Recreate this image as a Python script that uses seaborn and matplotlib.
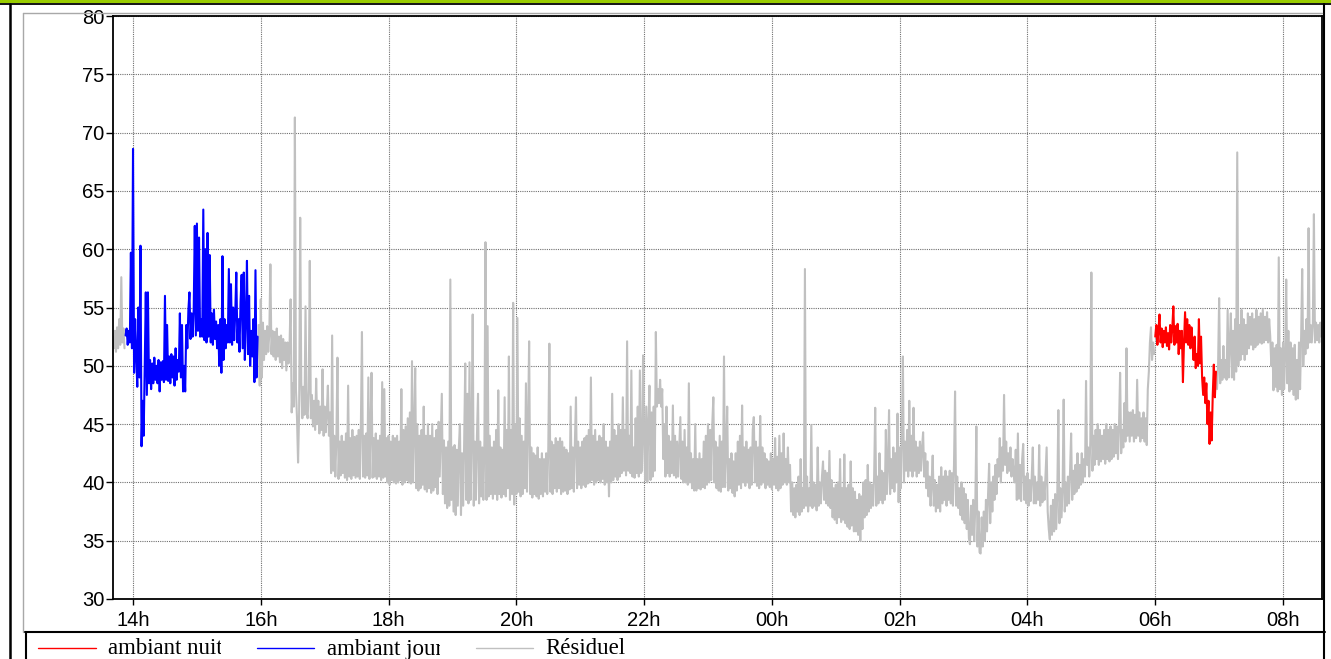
import matplotlib
matplotlib.use("Agg")
import pandas as pd
import matplotlib.pyplot as plt
import matplotlib.dates as mdates
from matplotlib.lines import Line2D
from matplotlib.patches import Rectangle
import seaborn as sns

# ---------------------------------------------------------------- data
# sound level samples, one per minute (dB)
DAY = "2024-05-13"

residuel_a_start = f"{DAY} 13:41"
residuel_a = [52.5, 51.5, 53.0, 51.2, 53.3, 51.5, 54.0, 51.8, 57.6, 52.0, 53.2, 51.5]

jour_start = f"{DAY} 13:53"
ambiant_jour = [
    52.6, 53.2, 51.8, 53.0, 52.0, 59.7, 51.5, 68.6, 49.4, 54.0,
    51.0, 48.2, 55.0, 49.0, 60.3, 43.1, 47.0, 44.0, 50.0, 56.3,
    47.5, 56.3, 48.5, 50.5, 48.0, 50.2, 48.5, 50.7, 48.8, 50.0,
    48.5, 50.5, 47.8, 50.3, 48.8, 50.4, 48.6, 56.0, 48.8, 53.5,
    48.7, 50.8, 48.5, 51.0, 49.0, 50.8, 48.3, 51.5, 48.8, 50.5,
    49.5, 54.5, 49.0, 53.5, 47.8, 50.0, 47.8, 53.5, 51.5, 54.8,
    56.3, 52.3, 54.5, 52.5, 54.8, 62.0, 52.6, 62.2, 53.0, 61.0,
    52.5, 54.0, 52.5, 63.4, 52.2, 60.0, 52.0, 61.4, 52.5, 59.5,
    52.0, 54.5, 51.8, 54.8, 52.3, 53.8, 51.5, 53.5, 50.0, 54.0,
    49.4, 59.4, 50.5, 54.0, 51.5, 53.5, 52.0, 58.3, 52.0, 57.0,
    51.8, 55.0, 52.2, 54.5, 58.0, 52.0, 54.0, 51.2, 55.5, 57.8,
    51.5, 58.0, 50.5, 54.0, 59.0, 51.0, 56.0, 50.0, 53.0, 50.8,
    54.0, 48.6, 58.2, 49.0, 52.5,
]

residuel_b_start = f"{DAY} 15:58"
residuel_b = [
    53.5, 48.3, 55.7, 49.0, 53.7, 50.5, 53.0, 51.0, 53.4, 51.2,
    52.8, 58.7, 51.0, 53.0, 50.8, 52.9, 50.5, 53.2, 50.8, 52.5,
    50.3, 52.6, 49.8, 52.3, 50.5, 52.0, 49.6, 52.0, 50.2, 51.8,
    55.7, 46.0, 48.5, 46.5, 71.3, 48.0, 45.5, 41.7, 46.0, 62.7,
    48.6, 45.5, 48.2, 45.8, 55.1, 46.0, 45.5, 48.0, 59.0, 45.5,
    47.5, 44.8, 47.0, 44.5, 48.9, 45.0, 47.0, 44.2, 46.5, 44.5,
    49.7, 44.0, 46.5, 44.3, 46.0, 48.3, 44.0, 46.0, 40.8, 52.6,
    41.0, 44.0, 40.5, 43.8, 50.7, 40.3, 43.5, 40.6, 44.0, 40.8,
    43.5, 40.4, 44.2, 40.2, 48.3, 40.5, 43.8, 40.3, 44.5, 40.6,
    43.9, 40.4, 44.0, 40.5, 44.5, 40.3, 45.0, 52.9, 40.5, 44.0,
    40.4, 44.2, 40.6, 49.0, 40.3, 44.5, 49.4, 40.4, 43.8, 40.5,
    44.2, 40.3, 43.6, 40.5, 44.0, 40.2, 48.6, 40.4, 48.0, 40.5,
    43.8, 40.0, 44.0, 39.8, 43.5, 40.2, 44.0, 40.0, 43.8, 39.9,
    44.0, 40.0, 43.5, 40.2, 48.0, 39.8, 44.5, 40.0, 44.8, 40.2,
    45.5, 40.0, 46.0, 39.9, 50.4, 40.0, 44.5, 49.8, 39.5, 45.0,
    39.3, 44.0, 39.5, 44.5, 39.8, 46.5, 39.4, 44.0, 39.2, 45.0,
    39.5, 44.0, 39.1, 45.0, 39.3, 43.8, 39.6, 44.5, 39.0, 45.2,
    40.5, 44.0, 47.6, 39.0, 43.6, 38.2, 43.0, 37.8, 43.5, 38.0,
    57.4, 38.5, 43.0, 37.5, 43.2, 37.2, 42.8, 38.0, 43.0, 45.0,
    37.2, 42.5, 38.0, 43.5, 50.2, 38.5, 47.6, 38.2, 50.3, 38.5,
    44.0, 54.4, 38.0, 43.5, 38.5, 44.0, 47.6, 38.2, 43.5, 38.8,
    43.0, 38.5, 43.5, 60.6, 38.5, 53.4, 38.8, 44.0, 39.0, 43.0,
    38.6, 43.5, 39.0, 44.5, 38.5, 47.9, 39.0, 43.0, 38.7, 42.8,
    39.0, 47.3, 38.8, 44.5, 39.5, 50.8, 38.5, 44.5, 39.0, 55.4,
    38.1, 45.0, 39.0, 54.1, 39.2, 45.5, 38.8, 44.0, 39.0, 43.5,
    39.5, 48.5, 39.2, 45.0, 52.1, 39.0, 43.0, 38.7, 42.5, 39.0,
    42.3, 38.8, 43.0, 38.6, 42.0, 39.0, 42.5, 38.8, 42.0, 39.2,
    42.5, 39.0, 43.0, 51.9, 39.2, 43.5, 39.0, 43.2, 39.5, 43.8,
    39.2, 43.5, 39.5, 43.8, 39.0, 43.5, 39.2, 43.0, 39.3, 42.8,
    39.0, 42.5, 39.4, 46.5, 39.5, 43.0, 39.2, 43.5, 47.3, 39.5,
    43.5, 39.8, 43.0, 39.5, 43.5, 39.8, 43.8, 39.6, 44.0, 39.9,
    44.5, 40.0, 49.0, 40.2, 44.0, 39.8, 44.5, 40.0, 43.5, 40.2,
    44.0, 40.0, 43.8, 40.3, 45.0, 39.8, 43.5, 40.0, 43.0, 38.8,
    43.5, 40.0, 47.6, 40.2, 44.5, 40.5, 44.0, 40.2, 45.0, 40.5,
    44.5, 40.8, 47.3, 41.0, 44.5, 40.6, 52.1, 41.0, 44.0, 40.8,
    49.6, 40.5, 43.0, 40.4, 45.5, 40.8, 46.5, 40.5, 49.6, 40.8,
    41.0, 50.9, 44.0, 40.2, 46.5, 40.0, 45.0, 48.3, 40.2, 46.0,
    40.5, 46.5, 41.0, 52.9, 46.5, 48.0, 46.8, 48.8, 46.5, 48.0,
    42.0, 45.0, 40.5, 46.5, 40.8, 44.0, 40.5, 43.5, 40.8, 46.6,
    40.6, 44.0, 40.4, 43.5, 40.5, 43.0, 45.6, 40.3, 43.5, 40.0,
    44.5, 40.0, 43.0, 39.8, 48.5, 40.0, 42.5, 39.5, 42.0, 39.3,
    45.0, 39.3, 42.0, 39.5, 42.5, 39.4, 42.0, 39.6, 43.5, 39.5,
    44.0, 39.8, 45.0, 40.0, 44.5, 40.2, 45.0, 47.3, 40.0, 43.5,
    39.5, 43.0, 39.3, 44.0, 39.2, 43.5, 39.6, 50.8, 39.6, 42.5,
    46.5, 39.3, 42.0, 39.5, 42.5, 39.1, 41.8, 38.8, 42.5, 39.3,
    43.5, 39.8, 44.0, 39.5, 46.6, 40.0, 43.0, 39.7, 43.5, 40.0,
    42.8, 39.5, 43.0, 39.8, 44.5, 45.6, 40.0, 43.5, 39.7, 43.0,
    39.5, 45.7, 39.8, 43.0, 40.0, 42.5, 39.5, 42.0, 39.8, 41.8,
    39.6, 42.5, 39.4, 42.0, 39.8, 43.8, 39.5, 42.2, 39.3, 44.0,
    39.5, 42.5, 39.8, 44.2, 40.0, 42.0, 39.8, 43.0, 40.0, 41.5,
    37.5, 40.0, 37.2, 39.5, 37.0, 39.8, 37.5, 40.5, 37.2, 42.0,
    37.5, 39.5, 37.8, 58.3, 38.0, 40.5, 37.5, 39.5, 38.0, 44.9,
    37.8, 40.0, 38.0, 39.8, 37.6, 43.0, 38.0, 40.0, 38.2, 40.5,
    41.8, 38.5, 41.0, 38.2, 40.8, 38.0, 42.7, 37.8, 40.2, 37.0,
    39.5, 36.8, 39.8, 36.5, 40.0, 37.0, 42.0, 36.6, 39.5, 36.8,
    42.4, 36.5, 39.5, 36.2, 39.8, 36.0, 41.8, 36.3, 39.5, 35.8,
    39.2, 35.8, 38.5, 35.5, 39.0, 35.0, 38.8, 36.0, 40.0, 37.0,
    40.2, 37.2, 41.5, 37.5, 40.0, 37.8, 39.8, 38.0, 40.5, 46.4,
    38.0, 40.5, 38.2, 42.5, 38.5, 41.0, 38.2, 40.8, 38.5, 44.5,
    39.0, 41.5, 46.2, 39.0, 42.0, 39.5, 43.0, 39.2, 42.5, 40.0,
    45.9, 38.3, 43.0, 39.5, 44.0, 50.8, 40.0, 43.5, 41.0, 44.5,
    40.5, 47.0, 41.0, 44.0, 40.5, 46.4, 41.0, 43.5, 40.5, 43.0,
    40.8, 43.5, 41.0, 43.0, 44.3, 40.5, 42.5, 39.5, 41.8, 38.8,
    40.5, 38.0, 40.0, 42.3, 38.0, 40.2, 37.5, 39.8, 37.8, 40.5,
    37.5, 41.3, 38.2, 40.5, 38.5, 41.0, 38.0, 40.5, 38.5, 41.0,
    38.2, 40.8, 38.0, 41.5, 47.8, 38.0, 40.5, 37.8, 39.5, 37.2,
    40.0, 36.8, 39.5, 36.5, 39.0, 36.0, 38.5, 35.2, 34.7, 38.0,
    35.5, 38.5, 35.0, 38.0, 44.8, 34.5, 37.5, 34.0, 33.9, 37.0,
    34.5, 37.5, 35.0, 38.5, 35.8, 39.0, 41.6, 36.5, 40.0, 37.5,
    40.5, 38.5, 41.5, 39.0, 42.0, 40.5, 43.8, 40.0, 43.0, 41.0,
    47.5, 41.5, 43.5, 40.8, 42.5, 41.0, 43.0, 40.5, 42.0, 40.8,
    40.0, 42.8, 38.5, 44.2, 38.6, 41.5, 38.4, 42.0, 43.3, 38.5,
    40.5, 38.2, 40.8, 38.0, 40.2, 38.4, 40.5, 43.0, 38.2, 40.5,
    38.2, 40.0, 38.5, 43.2, 38.0, 40.5, 38.3, 40.0, 38.5, 40.8,
    43.0, 37.5, 36.0, 35.1, 38.0, 35.5, 38.5, 35.8, 39.0, 36.0,
    39.0, 46.2, 36.5, 39.5, 37.0, 39.5, 47.1, 37.5, 40.0, 38.0,
    40.5, 38.2, 41.0, 44.2, 38.5, 41.0, 39.0, 41.5, 39.2, 42.5,
    39.5, 41.5, 39.8, 42.5, 40.0, 42.0, 40.5, 48.7, 41.5, 43.0,
    40.5, 43.5, 58.0, 41.0, 44.0, 41.5, 44.5, 42.0, 45.0, 41.5,
    44.5, 41.8, 44.0, 42.0, 44.5, 41.6, 45.0, 42.0, 44.5, 41.8,
    44.8, 42.0, 44.5, 42.2, 45.0, 42.5, 44.8, 42.0, 45.0, 49.4,
    42.5, 44.5, 43.0, 46.8, 43.5, 51.5, 44.0, 46.0, 43.5, 46.0,
    44.0, 46.2, 43.5, 45.8, 43.8, 48.8, 44.0, 46.0, 43.5, 45.5,
    43.8, 46.0, 43.5, 45.5, 43.2, 48.0, 49.5, 52.0, 53.3, 50.5,
    52.0, 51.0,
]

nuit_start = "2024-05-14 06:00"
ambiant_nuit = [
    52.5, 53.5, 51.8, 53.0, 54.4, 52.0, 53.2, 51.6, 53.0, 52.0,
    53.3, 51.7, 52.8, 51.4, 53.5, 52.0, 53.2, 55.1, 51.8, 53.4,
    52.0, 53.6, 51.0, 53.0, 51.5, 53.0, 48.6, 52.0, 54.6, 52.0,
    54.0, 51.8, 53.5, 51.5, 53.3, 52.0, 50.5, 52.5, 49.8, 51.0,
    50.0, 54.0, 50.2, 52.5, 49.0, 47.5, 49.0, 46.8, 48.5, 45.0,
    47.0, 43.3, 46.0, 43.6, 47.5, 50.1, 47.3, 49.5,
]

residuel_c_start = "2024-05-14 06:58"
residuel_c = [
    48.0, 50.0, 55.8, 48.5, 50.5, 48.8, 51.7, 49.0, 50.5, 48.8,
    54.8, 49.0, 52.0, 54.5, 49.0, 53.0, 48.8, 54.0, 49.5, 68.3,
    50.0, 53.5, 50.5, 54.8, 51.0, 54.0, 50.5, 53.5, 51.0, 54.5,
    51.5, 54.2, 51.8, 54.5, 51.4, 54.0, 51.6, 54.8, 51.8, 54.2,
    52.0, 54.5, 51.9, 54.8, 52.0, 54.2, 52.2, 54.6, 52.0, 54.0,
    52.5, 50.0, 52.0, 47.9, 51.5, 48.2, 51.8, 47.8, 59.3, 48.0,
    51.5, 47.5, 52.0, 48.0, 51.0, 57.4, 48.5, 53.0, 47.8, 52.0,
    48.0, 51.5, 47.5, 51.8, 47.1, 50.5, 47.2, 52.0, 48.0, 52.5,
    58.3, 50.0, 53.0, 51.0, 54.0, 51.5, 61.8, 52.0, 53.5, 52.0,
    53.5, 63.0, 52.0, 53.7, 52.2, 53.5, 52.0, 53.7, 52.5,
]

legend_labels = ["ambiant nuit", "ambiant jour", "Résiduel"]
series_colors = {"ambiant nuit": "#ff0000", "ambiant jour": "#0000ff", "Résiduel": "#c0c0c0"}

y_ticks = [30, 35, 40, 45, 50, 55, 60, 65, 70, 75, 80]
x_start = pd.Timestamp(f"{DAY} 13:41:12")
x_end = pd.Timestamp("2024-05-14 08:36:36")


def segment(start, values, name, seg):
    t = pd.date_range(start, periods=len(values), freq="min")
    return pd.DataFrame({"time": t, "level": values, "serie": name, "seg": seg})


df = pd.concat([
    segment(residuel_a_start, residuel_a, "Résiduel", 0),
    segment(residuel_b_start, residuel_b, "Résiduel", 1),
    segment(residuel_c_start, residuel_c, "Résiduel", 2),
    segment(jour_start, ambiant_jour, "ambiant jour", 3),
    segment(nuit_start, ambiant_nuit, "ambiant nuit", 4),
], ignore_index=True)

# ---------------------------------------------------------------- figure
sns.set_style("white")
plt.rcParams["font.family"] = ["Liberation Sans", "DejaVu Sans"]

W, H = 1331, 659
fig = plt.figure(figsize=(W / 100, H / 100), dpi=100)


def fx(px):
    return px / W


def fy(py):
    return 1 - py / H


ax = fig.add_axes([fx(113), fy(599), fx(1322) - fx(113), fy(16) - fy(599)])

for seg, sub in df.groupby("seg", sort=True):
    name = sub["serie"].iloc[0]
    sns.lineplot(data=sub, x="time", y="level", color=series_colors[name],
                 lw=1.5, ax=ax, legend=False, estimator=None, sort=False)

ax.set_xlim(x_start, x_end)
ax.set_ylim(30, 80)
ax.set_yticks(y_ticks)
ax.xaxis.set_major_locator(mdates.HourLocator(byhour=range(0, 24, 2)))
ax.xaxis.set_major_formatter(mdates.DateFormatter("%Hh"))
ax.set_xlabel("")
ax.set_ylabel("")
ax.grid(True, color="#707070", linestyle=(0, (1, 1)), lw=0.8)
ax.set_axisbelow(True)
for s in ax.spines.values():
    s.set_color("black")
    s.set_linewidth(1.3)
ax.tick_params(axis="y", direction="out", length=5, width=1, pad=1,
               labelsize=14.5, colors="black", left=True)
ax.tick_params(axis="x", direction="out", length=4, width=1, pad=5,
               labelsize=14.5, colors="black", bottom=True)

# ---------------------------------------------------------------- frame
fig.add_artist(Rectangle((0, fy(3.4)), 1, 1 - fy(3.4), transform=fig.transFigure,
                         facecolor="#99cc00", edgecolor="none"))
fig.add_artist(Line2D([0, 1], [fy(4.2), fy(4.2)], color="black", lw=1.3))
fig.add_artist(Line2D([fx(9.5), fx(9.5)], [fy(4), 0], color="black", lw=1.8))
fig.add_artist(Line2D([fx(1324.3), fx(1324.3)], [fy(4), 0], color="black", lw=1.5))
fig.add_artist(Line2D([fx(23.3), fx(1322)], [fy(13.3), fy(13.3)], color="#a8a8a8", lw=1.0))
fig.add_artist(Line2D([fx(23.3), fx(23.3)], [fy(13.3), fy(632)], color="#a8a8a8", lw=1.0))

# ---------------------------------------------------------------- legend
leg_line_x = [(38, 96), (257, 314), (476, 533)]
leg_text_x = [108, 327, 545]
leg_cell_end = [221, 440, None]
for label, (x0, x1), tx, cell_end in zip(legend_labels, leg_line_x, leg_text_x, leg_cell_end):
    fig.add_artist(Line2D([fx(x0), fx(x1)], [fy(648), fy(648)],
                          color=series_colors[label], lw=1.0))
    fig.text(fx(tx), fy(649), label, ha="left", va="center", fontsize=16.5,
             family=["Liberation Serif", "DejaVu Serif"], color="black", zorder=3)
    if cell_end is not None:
        # legend cells have a fixed width: the label is cut at the cell edge
        mask = Rectangle((fx(cell_end), 0), fx(30), fy(634), transform=fig.transFigure,
                         facecolor="white", edgecolor="none", zorder=5)
        fig.add_artist(mask)

fig.add_artist(Line2D([fx(25), fx(1325)], [fy(632), fy(632)], color="black", lw=1.5, zorder=6))
fig.add_artist(Line2D([fx(25.8), fx(25.8)], [fy(632), 0], color="black", lw=1.5, zorder=6))

fig.savefig("out.png", dpi=100)
